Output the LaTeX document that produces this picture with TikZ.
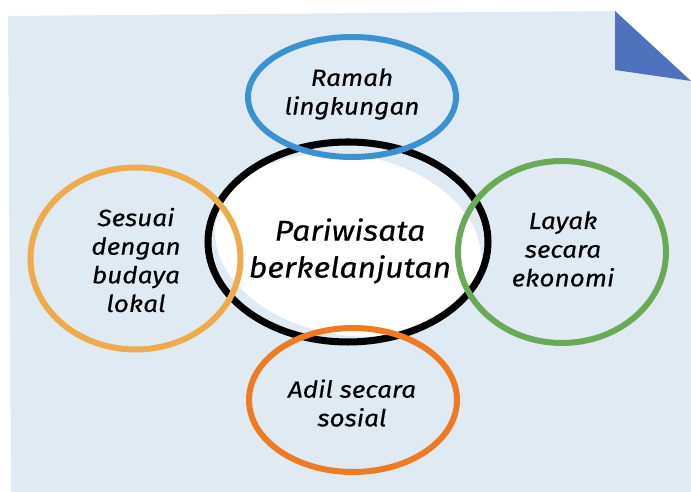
\documentclass[tikz,border=0pt]{standalone}
\usepackage{fontspec}
\setmainfont{Fira Sans}[ItalicFeatures={FakeStretch=1.12,FakeBold=0.4}]
\usepackage{tikz}

\definecolor{paper}{RGB}{223,234,243}
\definecolor{fold}{RGB}{78,114,190}
\definecolor{ringblue}{RGB}{58,147,208}
\definecolor{ringyellow}{RGB}{238,171,74}
\definecolor{ringgreen}{RGB}{105,170,86}
\definecolor{ringorange}{RGB}{240,122,34}

\tikzset{
	ring/.style={line width=3.4pt},
	bigtext/.style={align=center,font=\fontsize{16.3}{21}\selectfont\itshape},
	smalltext/.style={align=center,font=\fontsize{13.3}{16.3}\selectfont\itshape}
}

\begin{document}
\begin{tikzpicture}[x=0.02cm,y=-0.02cm]
	\useasboundingbox (0,0) rectangle (691,492);
	%paper
	\fill[paper] (8,16)--(615,11)--(691,81)--(691,492)--(11,492)--cycle;
	\fill[fold] (615,11)--(615,70)--(691,81)--cycle;
	
	%centre
	\fill[white,rotate around={-10:(348,245)}] (348,245) ellipse (134 and 90);
	\draw[line width=4pt] (348,242) ellipse (140 and 100);
	
	%rings
	\draw[ring,ringblue] (352,97) ellipse (104 and 60);
	\draw[ring,ringyellow] (135.5,258.5) ellipse (105 and 91);
	\draw[ring,ringgreen] (562,252) ellipse (104 and 91);
	\draw[ring,ringorange] (353,400) ellipse (104 and 72);
	
	%labels
	\node[bigtext] (centre) at (350,251) {Pariwisata\\berkelanjutan};
	\node[smalltext] (ramah) at (352,94) {Ramah\\lingkungan};
	\node[smalltext] (budaya) at (136,260) {Sesuai\\dengan\\budaya\\lokal};
	\node[smalltext] (ekonomi) at (563,249) {Layak\\secara\\ekonomi};
	\node[smalltext] (sosial) at (352,403) {Adil secara\\sosial};
\end{tikzpicture}
\end{document}
